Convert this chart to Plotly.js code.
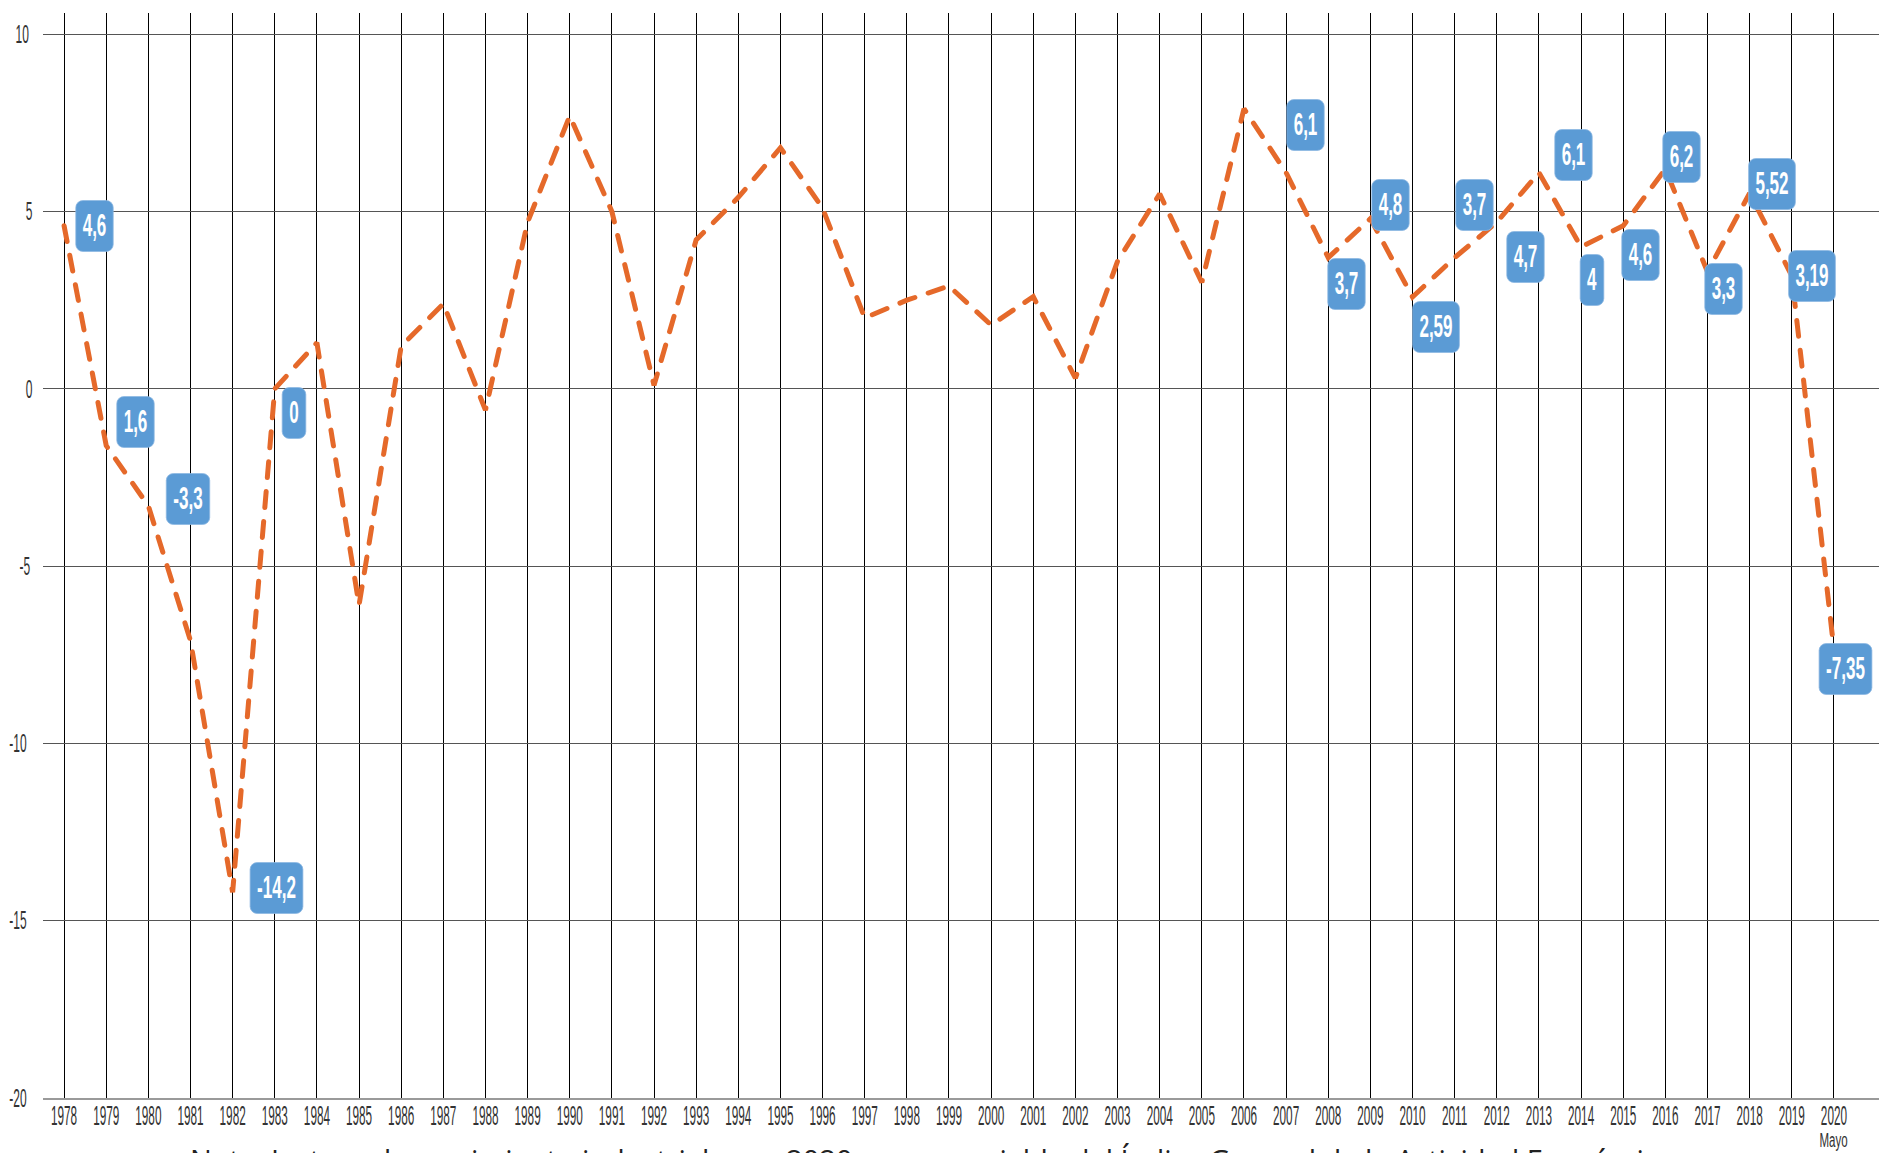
<!DOCTYPE html>
<html>
<head>
<meta charset="utf-8">
<script src="https://cdn.plot.ly/plotly-3.0.1.min.js"></script>
<style>
  html, body { margin: 0; padding: 0; background: #fff; }
  #chart { width: 1879px; height: 1153px; }
  g.xtick, g.ytick { transform-box: fill-box; transform-origin: center; }
  g.xtick { transform: translateY(-9px) scaleX(0.42); }
  g.ytick { transform: scaleX(0.48); }
  g.annotation rect.bg { rx: 13px; ry: 7px; }
  .scatterlayer path.js-line { stroke-linecap: round; }
</style>
</head>
<body>
<div id="chart"></div>
<script>
// ---- data ----
const years = [1978,1979,1980,1981,1982,1983,1984,1985,1986,1987,1988,1989,1990,1991,1992,1993,1994,1995,1996,1997,1998,1999,2000,2001,2002,2003,2004,2005,2006,2007,2008,2009,2010,2011,2012,2013,2014,2015,2016,2017,2018,2019,2020];
const growth = [4.6,-1.6,-3.3,-7.1,-14.2,0,1.3,-6.1,1.2,2.4,-0.6,4.7,7.7,5.0,0.1,4.2,5.4,6.8,5.1,2.0,2.5,2.9,1.8,2.6,0.3,3.6,5.5,3.0,7.9,6.1,3.7,4.8,2.59,3.7,4.7,6.1,4.0,4.6,6.2,3.3,5.52,3.19,-7.35];
const xTickLabels = years.map(String);
const yTickVals = [10,5,0,-5,-10,-15,-20];
const yTickText = ['10','5','0','-5','-10','-15','-20'];
const labelYears = [1978,1979,1980,1982,1983,2007,2008,2009,2010,2011,2012,2013,2014,2015,2016,2017,2018,2019,2020];
const labelTexts = ['4,6','1,6','-3,3','-14,2','0','6,1','3,7','4,8','2,59','3,7','4,7','6,1','4','4,6','6,2','3,3','5,52','3,19','-7,35'];
const lastPeriodNote = 'Mayo';
const noteText = 'Nota: La tasa de crecimiento industrial para 2020 es una variable del Índice General de la Actividad Económica';

// ---- styling: label offsets in screen px [dx, dy(down)] ----
const labelShift = [[30,0],[29,-24],[40,-7],[44,-4],[19,24],[19,-48],[18,26],[20,-14],[23,30],[20,-53],[29,35],[35,-18],[11,33],[17,29],[16,-12],[16,17],[22,-9],[20,0],[12,20]];
const SQUEEZE = 0.55;

function boxWidth(t) {
  let w = 14;
  for (const c of t) { if (c >= '0' && c <= '9') w += 9; else if (c === ',') w += 5; else if (c === '-') w += 6; }
  return w;
}

const trace = {
  x: years, y: growth, type: 'scatter', mode: 'lines',
  line: { color: '#E5692A', width: 5, dash: '16px,14px' },
  hoverinfo: 'x+y'
};

const annotations = labelYears.map((yr, i) => ({
  x: yr, y: growth[years.indexOf(yr)], xref: 'x', yref: 'y',
  text: labelTexts[i], showarrow: false,
  xshift: labelShift[i][0], yshift: -labelShift[i][1],
  bgcolor: '#5B9BD5', bordercolor: '#8DB8E2', borderwidth: 1, borderpad: 0,
  width: Math.round(boxWidth(labelTexts[i]) / SQUEEZE), height: 50,
  font: { family: 'Liberation Sans', size: 31, color: '#ffffff', weight: 'bold' }
}));
annotations.push({
  x: years[years.length - 1], xref: 'x', y: 0, yref: 'paper', yanchor: 'top',
  yshift: -28, text: lastPeriodNote, showarrow: false,
  font: { family: 'Liberation Sans', size: 21, color: '#333' }
});
const nLabelAnn = annotations.length;
annotations.push({
  x: 0.484, xref: 'paper', y: 0, yref: 'paper', yanchor: 'top', xanchor: 'center',
  yshift: -40, text: noteText, showarrow: false,
  font: { family: 'Open Sans', size: 29, color: '#222' }
});

const layout = {
  width: 1879, height: 1153,
  margin: { l: 43, r: 0, t: 13, b: 55 },
  paper_bgcolor: '#ffffff', plot_bgcolor: '#ffffff',
  showlegend: false,
  xaxis: {
    range: [1977.5, 2021.07], tickmode: 'array', tickvals: years, ticktext: xTickLabels,
    tickangle: 0,
    showgrid: true, gridcolor: '#000000', gridwidth: 1,
    zeroline: false, showline: true, linecolor: '#9a9a9a', linewidth: 2,
    ticks: '', ticklabelstandoff: 0,
    tickfont: { family: 'Liberation Sans', size: 28, color: '#333' }
  },
  yaxis: {
    range: [-20, 10.6], tickmode: 'array', tickvals: yTickVals, ticktext: yTickText,
    showgrid: true, gridcolor: '#555555', gridwidth: 1.2,
    zeroline: false, showline: false, ticks: '', ticklabelstandoff: 6,
    tickfont: { family: 'Liberation Sans', size: 25, color: '#333' }
  },
  annotations: annotations
};

Plotly.newPlot('chart', [trace], layout, { displayModeBar: false, staticPlot: true }).then(gd => {
  gd.querySelectorAll('g.annotation').forEach(g => {
    const i = +g.getAttribute('data-index');
    if (i < nLabelAnn) {
      const tg = g.querySelector('g.annotation-text-g');
      if (tg) {
        tg.style.transformBox = 'fill-box';
        tg.style.transformOrigin = 'center';
        tg.style.transform = 'scaleX(' + SQUEEZE + ')';
      }
    }
  });
});
</script>
</body>
</html>
